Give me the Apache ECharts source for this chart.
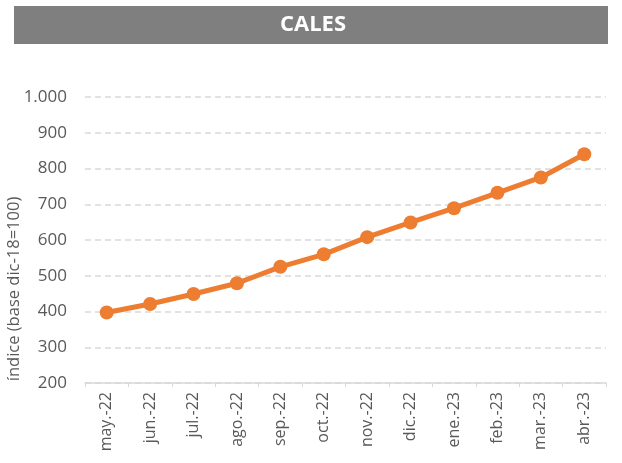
<!DOCTYPE html>
<html>
<head>
<meta charset="utf-8">
<script src="https://cdn.jsdelivr.net/npm/echarts@6/dist/echarts.min.js"></script>
<style>
  html, body { margin: 0; padding: 0; background: #fff; }
  #chart { width: 622px; height: 463px; }
</style>
</head>
<body>
<div id="chart"></div>
<script>
  // datos
  var meses = ['may.-22', 'jun.-22', 'jul.-22', 'ago.-22', 'sep.-22', 'oct.-22',
               'nov.-22', 'dic.-22', 'ene.-23', 'feb.-23', 'mar.-23', 'abr.-23'];
  var indice = [397, 421, 449, 479, 525, 560, 608, 649, 689, 732, 775, 840];

  var chart = echarts.init(document.getElementById('chart'));
  var font = '"Open Sans", "Noto Sans", sans-serif';

  chart.setOption({
    animation: false,
    graphic: [
      {
        type: 'rect',
        shape: { x: 14, y: 6, width: 594, height: 38 },
        style: { fill: '#7f7f7f' }
      },
      {
        type: 'text',
        x: 313, y: 25,
        style: {
          text: 'CALES', fill: '#fff', font: 'bold 22px ' + font,
          align: 'center', verticalAlign: 'middle'
        }
      },
      {
        type: 'text',
        x: 14, y: 289,
        rotation: Math.PI / 2,
        style: {
          text: 'índice (base dic-18=100)', fill: '#595959', font: '16.5px ' + font,
          align: 'center', verticalAlign: 'middle'
        }
      }
    ],
    grid: { left: 85, right: 16, top: 97, bottom: 80 },
    xAxis: {
      type: 'category',
      data: meses,
      boundaryGap: true,
      axisLine: { lineStyle: { color: '#d9d9d9', width: 1.5 } },
      axisTick: { show: true, length: 4, lineStyle: { color: '#d9d9d9' } },
      axisLabel: {
        rotate: 90, color: '#595959', fontSize: 16, fontFamily: font, margin: 9
      }
    },
    yAxis: {
      type: 'value',
      min: 200, max: 1000, interval: 100,
      axisLine: { show: false },
      axisTick: { show: false },
      axisLabel: {
        color: '#595959', fontSize: 17, fontFamily: font, margin: 18,
        formatter: function (v) { return v >= 1000 ? '1.000' : String(v); }
      },
      splitLine: { lineStyle: { color: '#d9d9d9', type: [6, 4], width: 1.5 } }
    },
    series: [{
      type: 'line',
      data: indice,
      symbol: 'circle',
      symbolSize: 14,
      lineStyle: { color: '#ed7d31', width: 5 },
      itemStyle: { color: '#ed7d31' }
    }]
  });
</script>
</body>
</html>
